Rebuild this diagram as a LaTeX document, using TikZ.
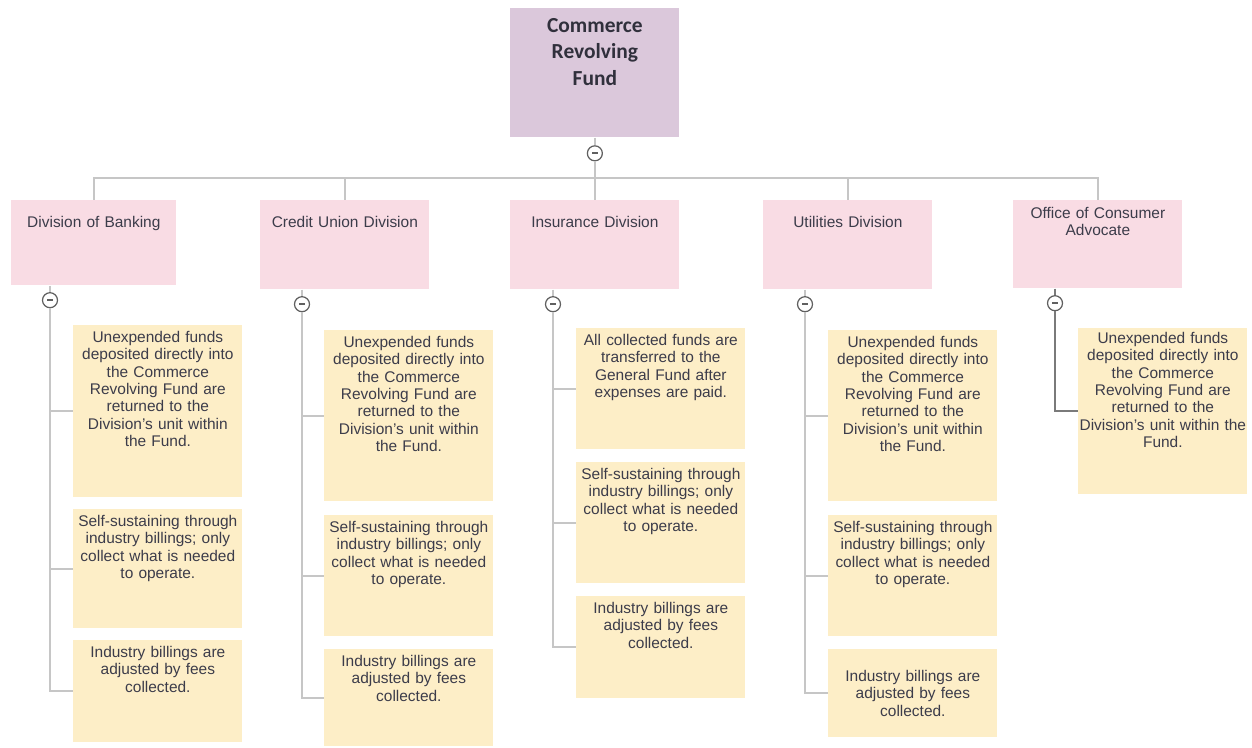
\documentclass[tikz,border=0pt]{standalone}
\usepackage{fontspec}
\setmainfont{Liberation Sans}
\newfontfamily\titlefont{Carlito}
\usetikzlibrary{positioning}
\definecolor{lila}{HTML}{DBC8DB}
\definecolor{rosa}{HTML}{F9DCE4}
\definecolor{crema}{HTML}{FDEEC7}
\definecolor{linea}{HTML}{C6C6C6}
\definecolor{lineaosc}{HTML}{7A7A7A}
\definecolor{texto}{HTML}{3C3C4A}
\definecolor{titulo}{HTML}{30303C}

\begin{document}
\begin{tikzpicture}[
    raiz/.style={rectangle, fill=lila, anchor=north west, inner sep=0pt, text width=3.38cm, align=center, font=\titlefont\bfseries\fontsize{12.2}{15}\selectfont, text=titulo, text height=0.48cm, text depth=2.10cm},
    division/.style={rectangle, fill=rosa, anchor=north west, inner sep=0pt, text width=3.38cm, align=center, font=\fontsize{8.8}{9.9}\selectfont, text=texto, text height=0.54cm, text depth=1.24cm},
    nota/.style={rectangle, fill=crema, anchor=north west, inner sep=0pt, text width=3.38cm, align=center, font=\fontsize{8.8}{9.9}\selectfont, text=texto, text height=0.34cm},
    menos/.style={circle, draw=gray!75!black, fill=white, line width=0.7pt, minimum size=0.30cm, inner sep=0pt, path picture={\draw[line width=1pt, gray!75!black] ([xshift=-1.6pt]path picture bounding box.center) -- ([xshift=1.6pt]path picture bounding box.center);}},
    rama/.style={draw=linea, line width=1pt},
]
\useasboundingbox (0,0) rectangle (25.04,-14.94);

\node (crf) [raiz] at (10.20,-0.16) {Commerce\\ Revolving\\ Fund};
\node (mCrf) [menos, below=0.15cm of crf] {};
\coordinate (bus) at ([yshift=-0.80cm]crf.south);

\node (banking) [division, text width=3.30cm, text depth=1.16cm] at (0.22,-4.00) {Division of Banking};
\node (credit) [division] at (5.20,-4.00) {Credit Union Division};
\node (insurance) [division] at (10.20,-4.00) {Insurance Division};
\node (utilities) [division] at (15.26,-4.00) {Utilities Division};
\node (advocate) [division, text height=0.36cm, text depth=1.40cm] at (20.26,-4.00) {Office of Consumer\\ Advocate};

\node (mBanking) [menos] at ([xshift=0.78cm,yshift=-0.29cm]banking.south west) {};
\node (mCredit) [menos] at ([xshift=0.84cm,yshift=-0.29cm]credit.south west) {};
\node (mInsurance) [menos] at ([xshift=0.86cm,yshift=-0.29cm]insurance.south west) {};
\node (mUtilities) [menos] at ([xshift=0.84cm,yshift=-0.29cm]utilities.south west) {};
\node (mAdvocate) [menos] at ([xshift=0.84cm,yshift=-0.29cm]advocate.south west) {};

% Division of Banking
\node (banking1) [nota, text depth=3.10cm] at (1.46,-6.50) {Unexpended funds\\ deposited directly into\\ the Commerce\\ Revolving Fund are\\ returned to the\\ Division’s unit within\\ the Fund.};
\node (banking2) [nota, text depth=2.04cm] at (1.46,-10.18) {Self-sustaining through\\ industry billings; only\\ collect what is needed\\ to operate.};
\node (banking3) [nota, text depth=1.70cm] at (1.46,-12.80) {Industry billings are\\ adjusted by fees\\ collected.};

% Credit Union Division
\node (credit1) [nota, text depth=3.08cm] at (6.48,-6.60) {Unexpended funds\\ deposited directly into\\ the Commerce\\ Revolving Fund are\\ returned to the\\ Division’s unit within\\ the Fund.};
\node (credit2) [nota, text depth=2.08cm] at (6.48,-10.30) {Self-sustaining through\\ industry billings; only\\ collect what is needed\\ to operate.};
\node (credit3) [nota, text depth=1.60cm] at (6.48,-12.98) {Industry billings are\\ adjusted by fees\\ collected.};

% Insurance Division
\node (insurance1) [nota, text depth=2.08cm] at (11.52,-6.56) {All collected funds are\\ transferred to the\\ General Fund after\\ expenses are paid.};
\node (insurance2) [nota, text depth=2.08cm] at (11.52,-9.24) {Self-sustaining through\\ industry billings; only\\ collect what is needed\\ to operate.};
\node (insurance3) [nota, text depth=1.70cm] at (11.52,-11.92) {Industry billings are\\ adjusted by fees\\ collected.};

% Utilities Division
\node (utilities1) [nota, text depth=3.08cm] at (16.56,-6.60) {Unexpended funds\\ deposited directly into\\ the Commerce\\ Revolving Fund are\\ returned to the\\ Division’s unit within\\ the Fund.};
\node (utilities2) [nota, text depth=2.08cm] at (16.56,-10.30) {Self-sustaining through\\ industry billings; only\\ collect what is needed\\ to operate.};
\node (utilities3) [nota, text height=0.64cm, text depth=1.12cm] at (16.56,-12.98) {Industry billings are\\ adjusted by fees\\ collected.};

% Office of Consumer Advocate
\node (advocate1) [nota, text height=0.30cm, text depth=3.02cm] at (21.56,-6.56) {Unexpended funds\\ deposited directly into\\ the Commerce\\ Revolving Fund are\\ returned to the\\ Division’s unit within the\\ Fund.};

\draw [rama] (crf.south) -- (mCrf.north);
\draw [rama] (mCrf.south) -- (bus);
\draw [rama] (bus) -| (banking.north);
\draw [rama] (bus) -| (credit.north);
\draw [rama] (bus) -- (insurance.north);
\draw [rama] (bus) -| (utilities.north);
\draw [rama] (bus) -| (advocate.north);

\draw [rama] (banking.south -| mBanking) -- (mBanking.north);
\draw [rama] (mBanking.south) |- (banking1.west);
\draw [rama] (mBanking.south) |- (banking2.west);
\draw [rama] (mBanking.south) |- (banking3.west);

\draw [rama] (credit.south -| mCredit) -- (mCredit.north);
\draw [rama] (mCredit.south) |- (credit1.west);
\draw [rama] (mCredit.south) |- (credit2.west);
\draw [rama] (mCredit.south) |- (credit3.west);

\draw [rama] (insurance.south -| mInsurance) -- (mInsurance.north);
\draw [rama] (mInsurance.south) |- (insurance1.west);
\draw [rama] (mInsurance.south) |- (insurance2.west);
\draw [rama] (mInsurance.south) |- (insurance3.west);

\draw [rama] (utilities.south -| mUtilities) -- (mUtilities.north);
\draw [rama] (mUtilities.south) |- (utilities1.west);
\draw [rama] (mUtilities.south) |- (utilities2.west);
\draw [rama] (mUtilities.south) |- (utilities3.west);

\draw [rama, draw=lineaosc] (advocate.south -| mAdvocate) -- (mAdvocate.north);
\draw [rama, draw=lineaosc] (mAdvocate.south) |- (advocate1.west);

\end{tikzpicture}
\end{document}
